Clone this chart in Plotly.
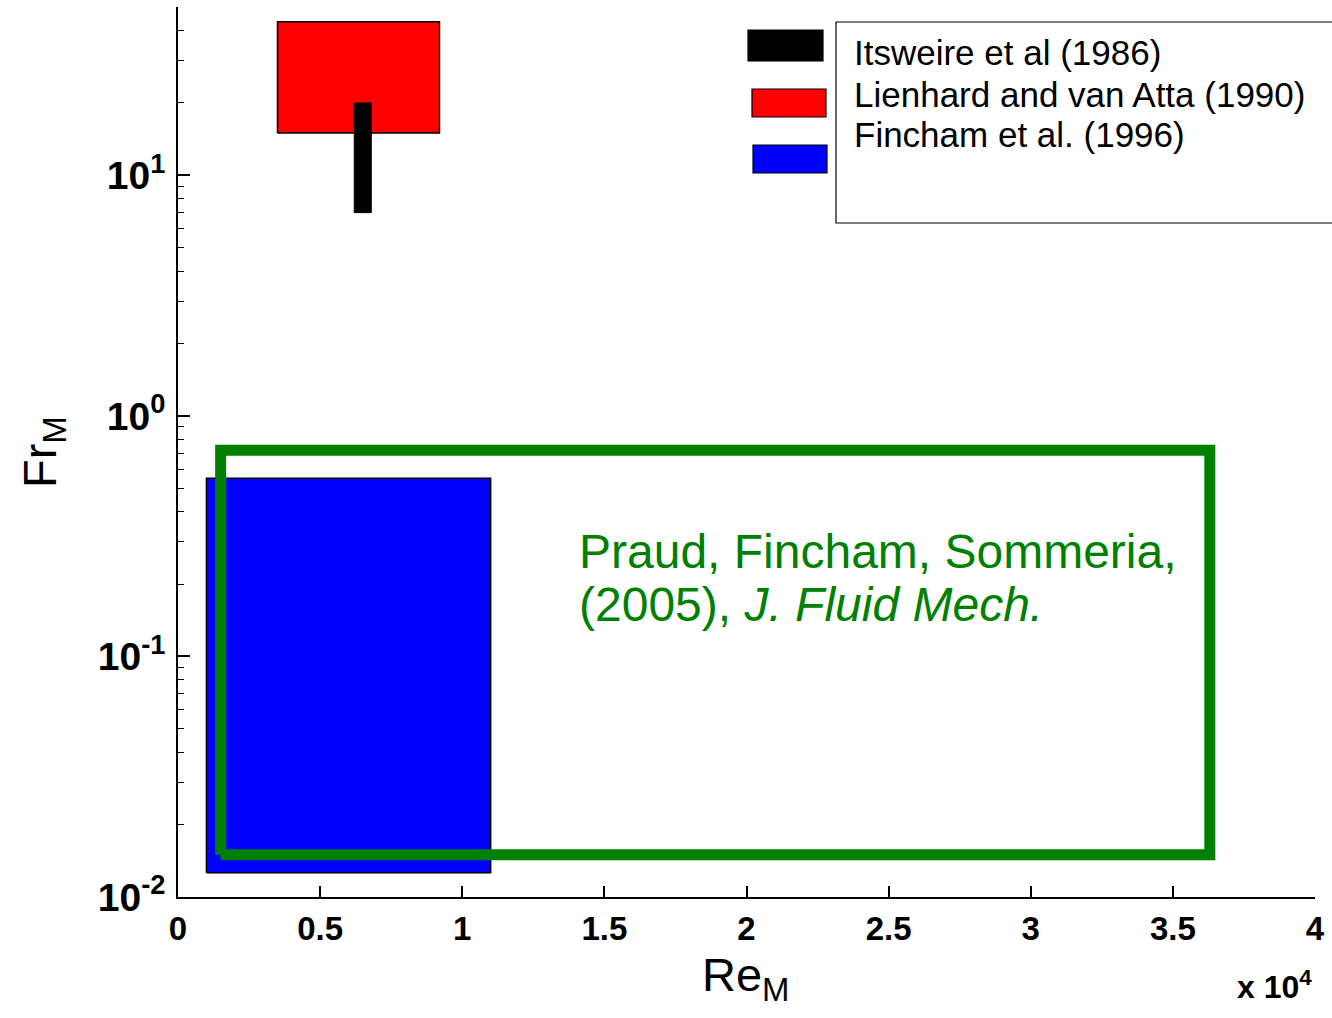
import plotly.graph_objects as go

# ---- data ----
itsweire_re = [6200, 6800]
itsweire_fr = [7.0, 20.0]
lienhard_re = [3500, 9200]
lienhard_fr = [15.0, 43.5]
fincham_re = [1000, 11000]
fincham_fr = [0.0126, 0.55]
praud_re = [1500, 36300]
praud_fr = [0.015, 0.72]

x_tickvals = [0, 5000, 10000, 15000, 20000, 25000, 30000, 35000, 40000]
x_ticktext = ["0", "0.5", "1", "1.5", "2", "2.5", "3", "3.5", "4"]
y_tickvals = [0.01, 0.1, 1, 10]
y_ticktext = ["10<sup>-2</sup>", "10<sup>-1</sup>", "10<sup>0</sup>", "10<sup>1</sup>"]

legend_labels = ["Itsweire et al (1986)", "Lienhard and van Atta (1990)", "Fincham et al. (1996)"]
legend_colors = ["black", "#ff0000", "#0000ff"]

W, H = 1332, 1018
ML, MR, MT, MB = 178, 17, 7, 121
PW, PH = W - ML - MR, H - MT - MB
FONT = "Liberation Sans, Arial, sans-serif"
GREEN = "#008000"


def px(xp):
    return (xp - ML) / PW


def py(yp):
    return (H - MB - yp) / PH


def rect(xs, ys):
    return ([xs[0], xs[1], xs[1], xs[0], xs[0]], [ys[0], ys[0], ys[1], ys[1], ys[0]])


fig = go.Figure()

x, y = rect(lienhard_re, lienhard_fr)
fig.add_trace(go.Scatter(x=x, y=y, mode="lines", fill="toself", fillcolor="#ff0000",
                         line=dict(color="black", width=1.5), name=legend_labels[1]))
x, y = rect(itsweire_re, itsweire_fr)
fig.add_trace(go.Scatter(x=x, y=y, mode="lines", fill="toself", fillcolor="black",
                         line=dict(color="black", width=1), name=legend_labels[0]))
x, y = rect(fincham_re, fincham_fr)
fig.add_trace(go.Scatter(x=x, y=y, mode="lines", fill="toself", fillcolor="#0000ff",
                         line=dict(color="black", width=1.5), name=legend_labels[2]))
x, y = rect(praud_re, praud_fr)
fig.add_trace(go.Scatter(x=x, y=y, mode="lines",
                         line=dict(color=GREEN, width=11), name="Praud et al. (2005)"))

# minor ticks on the log axis
minor_vals = [k * 10 ** d for d in range(-2, 2) for k in range(2, 10)]

fig.update_layout(
    width=W, height=H,
    margin=dict(l=ML, r=MR, t=MT, b=MB),
    paper_bgcolor="white", plot_bgcolor="white",
    showlegend=False,
    font=dict(family=FONT, color="black"),
    xaxis=dict(range=[0, 40000], tickmode="array", tickvals=x_tickvals, ticktext=x_ticktext,
               ticks="inside", ticklen=11, tickwidth=1.5, tickcolor="black",
               showline=True, linecolor="black", linewidth=1.5,
               showgrid=False, zeroline=False,
               tickfont=dict(size=33, weight="bold", family=FONT), ticklabelstandoff=2),
    yaxis=dict(type="log", range=[-2, 1.70], tickmode="array", tickvals=y_tickvals, ticktext=y_ticktext,
               ticks="inside", ticklen=12, tickwidth=1.5, tickcolor="black",
               showline=True, linecolor="black", linewidth=1.5,
               showgrid=False, zeroline=False,
               tickfont=dict(size=39, weight="bold", family=FONT), ticklabelstandoff=3,
               minor=dict(tickvals=minor_vals, ticks="inside", ticklen=6, tickwidth=1.2,
                          tickcolor="black", showgrid=False)),
)

shapes = []
# legend box
shapes.append(dict(type="rect", xref="paper", yref="paper",
                   x0=px(836), x1=px(1345), y0=py(223), y1=py(22),
                   line=dict(color="black", width=1.2), fillcolor="rgba(0,0,0,0)"))
sw = [(748, 823, 30, 61), (752, 826, 89, 117), (753, 827, 145, 173)]
for (x0, x1, y0, y1), c in zip(sw, legend_colors):
    shapes.append(dict(type="rect", xref="paper", yref="paper",
                       x0=px(x0), x1=px(x1), y0=py(y1), y1=py(y0),
                       line=dict(color="black", width=1.2), fillcolor=c))
fig.update_layout(shapes=shapes)

ann = []
for lab, yc in zip(legend_labels, [53, 94, 134]):
    ann.append(dict(text=lab, xref="paper", yref="paper", x=px(852), y=py(yc),
                    xanchor="left", yanchor="middle", showarrow=False,
                    font=dict(size=35, family=FONT, color="black")))
ann.append(dict(text="Praud, Fincham, Sommeria,", xref="paper", yref="paper",
                x=px(577), y=py(551), xanchor="left", yanchor="middle", showarrow=False,
                font=dict(size=48, family=FONT, color=GREEN)))
ann.append(dict(text="(2005), <i>J. Fluid Mech.</i>", xref="paper", yref="paper",
                x=px(577), y=py(604), xanchor="left", yanchor="middle", showarrow=False,
                font=dict(size=48, family=FONT, color=GREEN)))
ann.append(dict(text="Re<sub>M</sub>", xref="paper", yref="paper",
                x=px(746), y=py(978), xanchor="center", yanchor="middle", showarrow=False,
                font=dict(size=47, family=FONT, color="black")))
ann.append(dict(text="Fr<sub>M</sub>", xref="paper", yref="paper", textangle=-90,
                x=px(43), y=py(452), xanchor="center", yanchor="middle", showarrow=False,
                font=dict(size=47, family=FONT, color="black")))
ann.append(dict(text="x 10<sup>4</sup>", xref="paper", yref="paper",
                x=px(1274), y=py(985), xanchor="center", yanchor="middle", showarrow=False,
                font=dict(size=32, family=FONT, color="black", weight="bold")))
fig.update_layout(annotations=ann)

fig.write_html("out.html")
